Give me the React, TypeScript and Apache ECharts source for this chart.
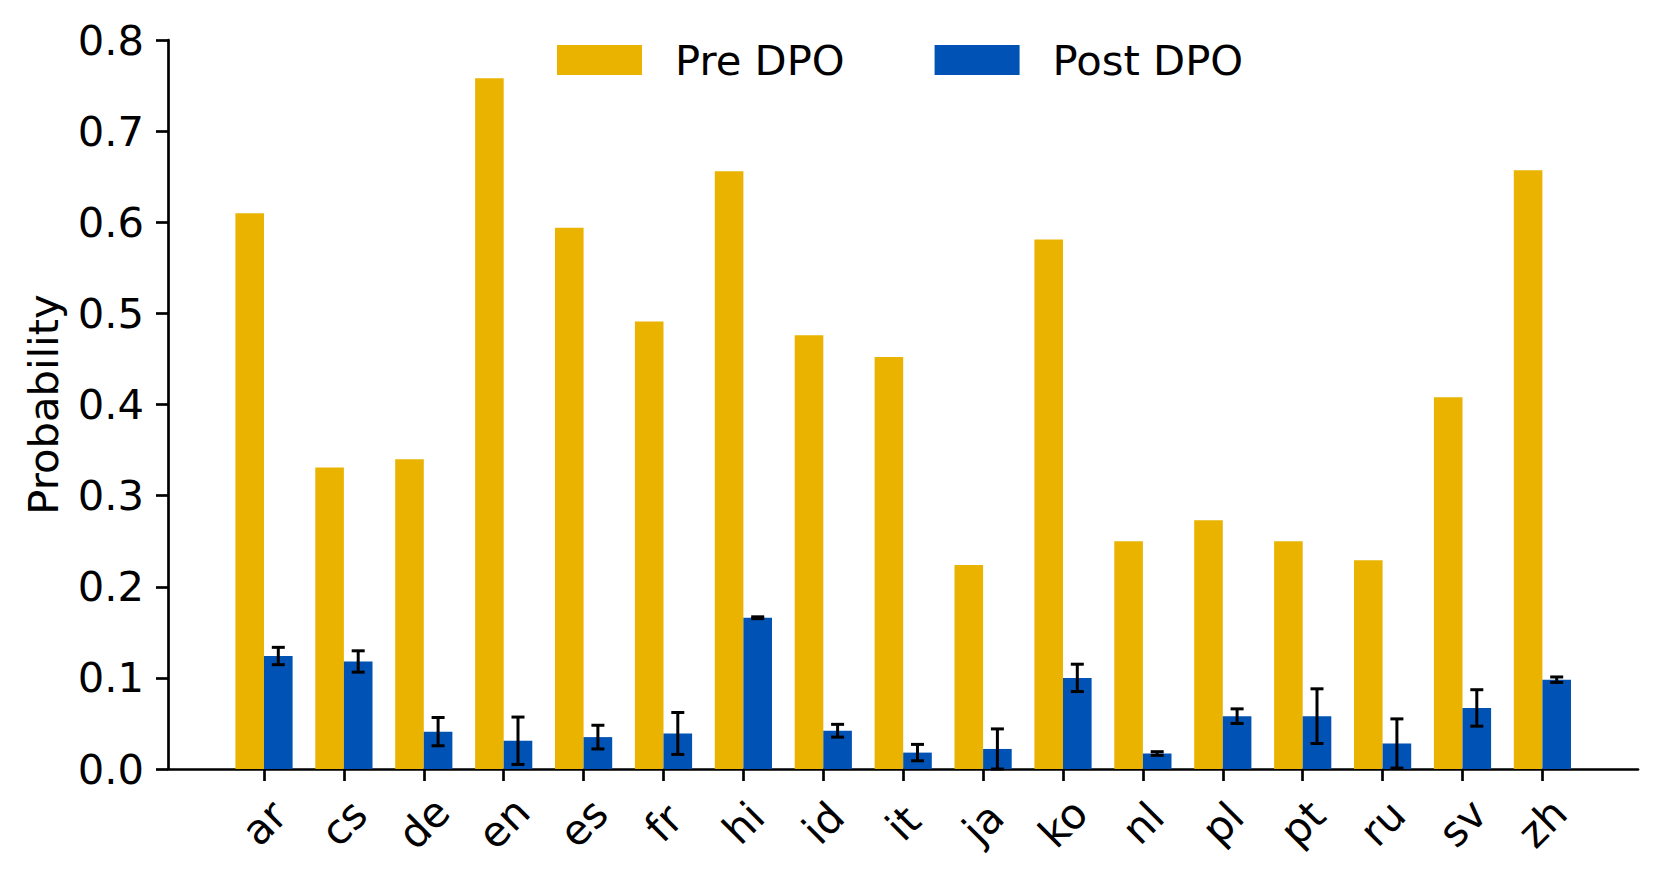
import React, { useEffect, useRef } from "react";
import * as echarts from "echarts";

const languages = ["ar", "cs", "de", "en", "es", "fr", "hi", "id", "it", "ja", "ko", "nl", "pl", "pt", "ru", "sv", "zh"];
const preDPO = [0.610, 0.331, 0.340, 0.758, 0.594, 0.491, 0.656, 0.476, 0.452, 0.224, 0.581, 0.250, 0.273, 0.250, 0.229, 0.408, 0.657];
const postDPO = [0.124, 0.118, 0.041, 0.031, 0.035, 0.039, 0.166, 0.042, 0.018, 0.022, 0.100, 0.017, 0.058, 0.058, 0.028, 0.067, 0.098];
const postErr = [0.0095, 0.0117, 0.0155, 0.026, 0.013, 0.023, 0.001, 0.007, 0.009, 0.022, 0.015, 0.002, 0.008, 0.030, 0.027, 0.020, 0.003];
const yTicks = [0, 0.1, 0.2, 0.3, 0.4, 0.5, 0.6, 0.7, 0.8];

const PRE_COLOR = "#EAB300";
const POST_COLOR = "#0053B5";
const FONT = "DejaVu Sans";
const FS = 41.7;
const BAR_W = 28.6;
const LW = 2.7;

export default function App() {
  const ref = useRef<HTMLDivElement>(null);
  useEffect(() => {
    if (!ref.current) return;
    const chart = echarts.init(ref.current, null, { renderer: "svg" });
    const errData = postDPO.map((v, i) => [i, v, postErr[i]]);
    const option: any = {
      animation: false,
      backgroundColor: "#ffffff",
      textStyle: { fontFamily: FONT, color: "#000" },
      legend: {
        data: ["Pre DPO", "Post DPO"],
        left: 552,
        top: 34,
        icon: "rect",
        itemWidth: 85,
        itemHeight: 30,
        itemGap: 90,
        textStyle: { fontFamily: FONT, fontSize: FS, color: "#000", padding: [0, 0, 0, 28], lineHeight: 30 },
      },
      grid: [
        { left: 168, right: 23, top: 40, bottom: 114 },
        { left: 224.05, width: 1358.3, top: 40, bottom: 114 },
      ],
      xAxis: [
        {
          type: "value",
          gridIndex: 0,
          min: 0,
          max: 1,
          axisLine: { show: true, lineStyle: { color: "#000", width: LW } },
          axisTick: { show: false },
          axisLabel: { show: false },
          splitLine: { show: false },
        },
        {
          type: "category",
          gridIndex: 1,
          data: languages,
          axisLine: { show: false },
          axisTick: { show: true, alignWithLabel: true, interval: 0, length: 12, lineStyle: { color: "#000", width: LW } },
          axisLabel: {
            interval: 0,
            rotate: 45,
            align: "center",
            verticalAlign: "middle",
            margin: 54,
            fontFamily: FONT,
            fontSize: FS,
            color: "#000",
          },
          splitLine: { show: false },
        },
      ],
      yAxis: [
        {
          type: "value",
          gridIndex: 0,
          min: 0,
          max: 0.8,
          interval: 0.1,
          name: "Probability",
          nameLocation: "middle",
          nameGap: 104,
          nameTextStyle: { fontFamily: FONT, fontSize: FS, color: "#000" },
          axisLine: { show: true, lineStyle: { color: "#000", width: LW } },
          axisTick: { show: true, length: 12, lineStyle: { color: "#000", width: LW } },
          axisLabel: {
            margin: 24,
            fontFamily: FONT,
            fontSize: FS,
            color: "#000",
            formatter: (v: number) => {
              const t = yTicks.find((x) => Math.abs(x - v) < 1e-9);
              return (t !== undefined ? t : v).toFixed(1);
            },
          },
          splitLine: { show: false },
        },
        {
          type: "value",
          gridIndex: 1,
          min: 0,
          max: 0.8,
          show: false,
          splitLine: { show: false },
        },
      ],
      series: [
        {
          name: "Pre DPO",
          type: "bar",
          xAxisIndex: 1,
          yAxisIndex: 1,
          data: preDPO,
          barWidth: BAR_W,
          barGap: "0%",
          itemStyle: { color: PRE_COLOR },
        },
        {
          name: "Post DPO",
          type: "bar",
          xAxisIndex: 1,
          yAxisIndex: 1,
          data: postDPO,
          barWidth: BAR_W,
          barGap: "0%",
          itemStyle: { color: POST_COLOR },
        },
        {
          name: "err",
          type: "custom",
          xAxisIndex: 1,
          yAxisIndex: 1,
          z: 10,
          data: errData,
          encode: { x: 0, y: 1 },
          renderItem: (params: any, api: any) => {
            const i = api.value(0);
            const v = api.value(1);
            const e = api.value(2);
            const c = api.coord([i, v]);
            const top = api.coord([i, v + e]);
            const bot = api.coord([i, v - e]);
            const x = c[0] + BAR_W / 2;
            const cap = 6.5;
            const st = { stroke: "#000", lineWidth: 3 };
            return {
              type: "group",
              children: [
                { type: "line", shape: { x1: x, y1: top[1], x2: x, y2: bot[1] }, style: st },
                { type: "line", shape: { x1: x - cap, y1: top[1], x2: x + cap, y2: top[1] }, style: st },
                { type: "line", shape: { x1: x - cap, y1: bot[1], x2: x + cap, y2: bot[1] }, style: st },
              ],
            };
          },
        },
      ],
    };
    chart.setOption(option);
    return () => chart.dispose();
  }, []);
  return (
    <div
      ref={ref}
      style={{ position: "fixed", left: 0, top: 0, width: 1661, height: 883, background: "#fff" }}
    />
  );
}
